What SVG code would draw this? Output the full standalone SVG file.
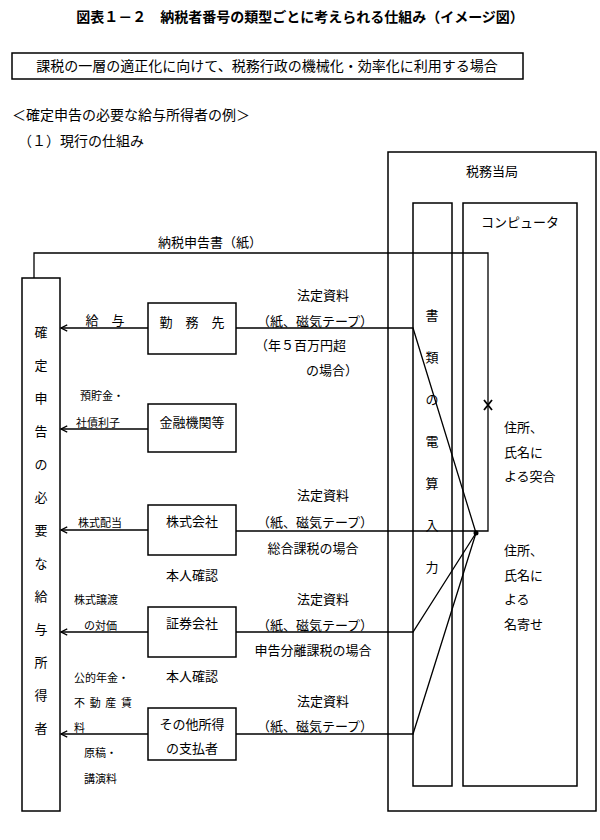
<svg xmlns="http://www.w3.org/2000/svg" width="600" height="840" viewBox="0 0 600 840">
<defs>
<style>
text{font-family:"Noto Sans CJK JP","Noto Sans CJK SC",sans-serif;font-size:13px;fill:#000}
.b{fill:#fff;stroke:#000;stroke-width:1.5}
.l{fill:none;stroke:#000;stroke-width:1.3}
.m{text-anchor:middle}
</style>
<marker id="a" viewBox="0 0 10 10" refX="9" refY="5" markerWidth="6" markerHeight="6" orient="auto"><path d="M1,1 L9,5 L1,9" fill="none" stroke="#000" stroke-width="1.5"/></marker>
</defs>
<rect width="600" height="840" fill="#fff"/>
<text x="300" y="22" class="m" style="font-size:14px;font-weight:bold">図表１－２　納税者番号の類型ごとに考えられる仕組み（イメージ図）</text>
<rect x="12" y="53" width="511" height="26" class="b"/>
<text x="267" y="71" class="m" style="font-size:14px">課税の一層の適正化に向けて、税務行政の機械化・効率化に利用する場合</text>
<text x="12" y="120" style="font-size:14px">＜確定申告の必要な給与所得者の例＞</text>
<text x="18" y="146" style="font-size:14px">（１）現行の仕組み</text>
<g id="authority"><rect x="388" y="152" width="208" height="659" class="b"/><text x="492" y="176" class="m">税務当局</text></g>
<g id="input"><rect x="413" y="203" width="39" height="583" class="b"/>
<text x="432" y="320" class="m">書</text><text x="432" y="362" class="m">類</text><text x="432" y="404" class="m">の</text><text x="432" y="446" class="m">電</text><text x="432" y="488" class="m">算</text><text x="432" y="530" class="m">入</text><text x="432" y="572" class="m">力</text></g>
<g id="computer"><rect x="463" y="203" width="114" height="583" class="b"/><text x="520" y="227" class="m">コンピュータ</text>
<text x="504" y="432">住所、</text><text x="504" y="457">氏名に</text><text x="504" y="481">よる突合</text>
<text x="504" y="555">住所、</text><text x="504" y="580">氏名に</text><text x="504" y="604">よる</text><text x="504" y="629">名寄せ</text></g>
<g id="taxpayer"><rect x="22" y="278" width="38" height="533" class="b"/>
<text x="41" y="337" class="m">確</text><text x="41" y="370" class="m">定</text><text x="41" y="403" class="m">申</text><text x="41" y="436" class="m">告</text><text x="41" y="469" class="m">の</text><text x="41" y="502" class="m">必</text><text x="41" y="535" class="m">要</text><text x="41" y="568" class="m">な</text><text x="41" y="601" class="m">給</text><text x="41" y="634" class="m">与</text><text x="41" y="667" class="m">所</text><text x="41" y="700" class="m">得</text><text x="41" y="733" class="m">者</text></g>
<g id="employer"><rect x="148" y="303" width="88" height="51" class="b"/><text x="192" y="327" class="m">勤　務　先</text></g>
<g id="bank"><rect x="148" y="404" width="88" height="48" class="b"/><text x="192" y="427" class="m">金融機関等</text></g>
<g id="company"><rect x="148" y="505" width="88" height="50" class="b"/><text x="192" y="526" class="m">株式会社</text></g>
<g id="securities"><rect x="148" y="607" width="88" height="50" class="b"/><text x="192" y="628" class="m">証券会社</text></g>
<g id="other"><rect x="148" y="708" width="88" height="52" class="b"/><text x="192" y="729" class="m">その他所得</text><text x="192" y="753" class="m">の支払者</text></g>
<g id="connectors">
<path class="l" d="M34,278 V253 H488 V531 H236"/>
<line x1="148" y1="328" x2="61" y2="328" class="l" marker-end="url(#a)"/>
<line x1="148" y1="429" x2="61" y2="429" class="l" marker-end="url(#a)"/>
<line x1="148" y1="530" x2="61" y2="530" class="l" marker-end="url(#a)"/>
<line x1="148" y1="632" x2="61" y2="632" class="l" marker-end="url(#a)"/>
<line x1="148" y1="734" x2="61" y2="734" class="l" marker-end="url(#a)"/>
<path class="l" d="M236,328 H413 L476,533"/>
<path class="l" d="M236,632 H413 L476,533"/>
<path class="l" d="M236,734 H413 L476,533"/>
<circle cx="476" cy="533" r="2.5"/>
<path d="M484,400 L492,410 M492,400 L484,410" stroke="#000" stroke-width="1.8"/>
</g>
<g id="labels">
<text x="210" y="247" class="m">納税申告書（紙）</text>
<text x="105" y="325" class="m">給　与</text>
<text x="323" y="300" class="m">法定資料</text><text x="315" y="326" class="m">（紙、磁気テープ）</text>
<text x="255" y="350">（年５百万円超</text><text x="306" y="375">の場合）</text>
<text x="80" y="400" style="font-size:11px">預貯金・</text><text x="76" y="427" style="font-size:11px">社債利子</text>
<text x="78" y="527" style="font-size:11px">株式配当</text>
<text x="323" y="500" class="m">法定資料</text><text x="315" y="527" class="m">（紙、磁気テープ）</text>
<text x="313" y="553" class="m">総合課税の場合</text>
<text x="192" y="580" class="m">本人確認</text>
<text x="74" y="604" style="font-size:11px">株式譲渡</text><text x="84" y="630" style="font-size:11px">の対価</text>
<text x="323" y="604" class="m">法定資料</text><text x="315" y="630" class="m">（紙、磁気テープ）</text>
<text x="313" y="655" class="m">申告分離課税の場合</text>
<text x="192" y="681" class="m">本人確認</text>
<text x="74" y="682" style="font-size:11px">公的年金・</text><text x="74" y="707" style="font-size:11px" textLength="58">不動産賃</text><text x="74" y="732" style="font-size:11px">料</text>
<text x="84" y="757" style="font-size:11px">原稿・</text><text x="84" y="783" style="font-size:11px">講演料</text>
<text x="323" y="706" class="m">法定資料</text><text x="315" y="731" class="m">（紙、磁気テープ）</text>
</g>
</svg>
